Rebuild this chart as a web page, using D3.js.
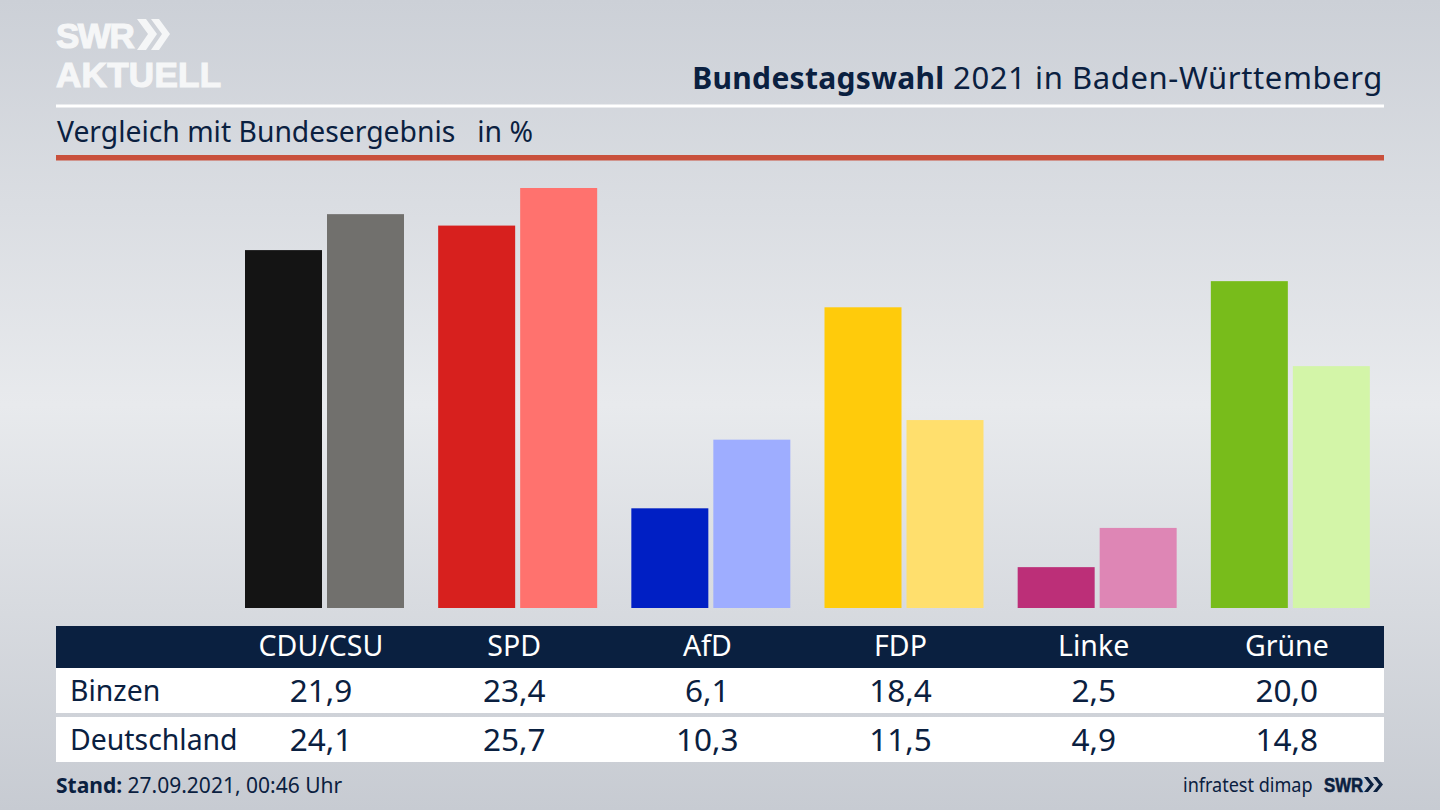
<!DOCTYPE html>
<html>

<head>
    <meta charset="utf-8">
    <script src="https://d3js.org/d3.v7.min.js"></script>
    <style>
        html, body {
            margin: 0;
            padding: 0;
            overflow: hidden;
        }

        text {
            font-family: "Noto Sans", sans-serif;
            fill: #0a2040;
        }
    </style>
</head>

<body>
    <svg width="1440" height="810"></svg>

    <script>
        const parties = ["CDU/CSU", "SPD", "AfD", "FDP", "Linke", "Grüne"];
        const regions = ["Binzen", "Deutschland"];
        const binzen = [21.9, 23.4, 6.1, 18.4, 2.5, 20.0];
        const deutschland = [24.1, 25.7, 10.3, 11.5, 4.9, 14.8];
        const binzenColors = ["#141414", "#d7201e", "#001fc4", "#ffcb0b", "#bc2f78", "#78bc1b"];
        const deutschlandColors = ["#71706d", "#ff726e", "#9eadff", "#ffdf6d", "#de86b5", "#d3f5a8"];

        const svg = d3.select("svg");

        // background
        const defs = svg.append("defs");
        const bg = defs.append("linearGradient")
            .attr("id", "bg")
            .attr("x1", 0).attr("y1", 0).attr("x2", 0).attr("y2", 1);
        bg.append("stop").attr("offset", "0%").attr("stop-color", "#ccd0d7");
        bg.append("stop").attr("offset", "50%").attr("stop-color", "#e8eaed");
        bg.append("stop").attr("offset", "100%").attr("stop-color", "#c7cbd2");

        svg.append("rect")
            .attr("width", 1440).attr("height", 810)
            .attr("fill", "url(#bg)");

        // logo
        const logo = svg.append("g").attr("fill", "#f5f6f7");
        const logoText = logo.append("text")
            .attr("font-size", 35).attr("font-weight", 700)
            .style("font-family", "'Liberation Sans', sans-serif")
            .style("fill", "#f5f6f7")
            .style("stroke", "#f5f6f7").style("stroke-width", 1.2);
        logoText.append("tspan")
            .attr("x", 56).attr("y", 47.5)
            .attr("letter-spacing", -1.5)
            .text("SWR");
        logoText.append("tspan")
            .attr("x", 56).attr("y", 87)
            .attr("letter-spacing", 0.3)
            .text("AKTUELL");
        logo.append("path").attr("d", "M137,19 h9 l11,15 l-11,16 h-9 l11,-16 z");
        logo.append("path").attr("d", "M151,19 h8 l11,15 l-11,16 h-8 l11,-16 z");

        // header
        const title = svg.append("text")
            .attr("x", 1383).attr("y", 89)
            .attr("text-anchor", "end")
            .attr("font-size", 30);
        title.append("tspan")
            .attr("font-weight", 700)
            .attr("letter-spacing", 0.3)
            .text("Bundestagswahl");
        title.append("tspan")
            .attr("font-size", 31)
            .attr("letter-spacing", 0.6)
            .text(" 2021 in Baden-Württemberg");

        svg.append("rect")
            .attr("x", 56).attr("y", 104.5).attr("width", 1328).attr("height", 3)
            .attr("fill", "#ffffff");

        svg.append("text")
            .attr("x", 57).attr("y", 142)
            .attr("font-size", 28.3)
            .attr("xml:space", "preserve")
            .text("Vergleich mit Bundesergebnis   in %");

        svg.append("rect")
            .attr("x", 56).attr("y", 155).attr("width", 1328).attr("height", 5.5)
            .attr("fill", "#c9503c");

        // bars
        const xScale = d3.scaleBand().domain(parties).range([228.5, 1387.5]);
        const xInner = d3.scaleBand()
            .domain(regions)
            .range([16.5, 175.5])
            .paddingInner(0.061);
        const yScale = d3.scaleLinear().domain([0, 25.7]).range([608, 188]);

        const groups = svg.selectAll(".party")
            .data(parties)
            .join("g")
            .attr("class", "party")
            .attr("transform", d => `translate(${xScale(d)},0)`);

        groups.append("rect")
            .attr("x", xInner("Binzen"))
            .attr("width", xInner.bandwidth())
            .attr("y", (d, i) => yScale(binzen[i]))
            .attr("height", (d, i) => yScale(0) - yScale(binzen[i]))
            .attr("fill", (d, i) => binzenColors[i]);

        groups.append("rect")
            .attr("x", xInner("Deutschland"))
            .attr("width", xInner.bandwidth())
            .attr("y", (d, i) => yScale(deutschland[i]))
            .attr("height", (d, i) => yScale(0) - yScale(deutschland[i]))
            .attr("fill", (d, i) => deutschlandColors[i]);

        // table
        svg.append("rect")
            .attr("x", 56).attr("y", 626).attr("width", 1328).attr("height", 42)
            .attr("fill", "#0a2040");
        svg.append("rect")
            .attr("x", 56).attr("y", 668).attr("width", 1328).attr("height", 45)
            .attr("fill", "#ffffff");
        svg.append("rect")
            .attr("x", 56).attr("y", 717).attr("width", 1328).attr("height", 45)
            .attr("fill", "#ffffff");

        const colX = d => xScale(d) + xInner("Binzen") + xInner.bandwidth() - 1;

        svg.selectAll(".head")
            .data(parties)
            .join("text")
            .attr("class", "head")
            .attr("x", colX)
            .attr("y", 656)
            .attr("text-anchor", "middle")
            .attr("font-size", 28.5)
            .style("fill", "#ffffff")
            .text(d => d);

        const fmt = v => v.toFixed(1).replace(".", ",");
        [binzen, deutschland].forEach((values, r) => {
            const rowY = r === 0 ? 701 : 750;
            svg.append("text")
                .attr("x", 70).attr("y", rowY)
                .attr("font-size", 28.4)
                .text(regions[r]);
            svg.selectAll(".val" + r)
                .data(parties)
                .join("text")
                .attr("class", "val" + r)
                .attr("x", colX)
                .attr("y", rowY + 1)
                .attr("text-anchor", "middle")
                .attr("font-size", 31.5)
                .text((d, i) => fmt(values[i]));
        });

        // footer
        const stand = svg.append("text")
            .attr("x", 56).attr("y", 793)
            .attr("font-size", 21);
        stand.append("tspan").attr("font-weight", 700).text("Stand:");
        stand.append("tspan").text(" 27.09.2021, 00:46 Uhr");

        svg.append("text")
            .attr("transform", "translate(1183,792) scale(0.88,1)")
            .attr("font-size", 20.5)
            .text("infratest dimap");
        svg.append("text")
            .attr("transform", "translate(1324,792) scale(0.84,1)")
            .attr("font-size", 20).attr("font-weight", 700)
            .style("font-family", "'Liberation Sans', sans-serif")
            .style("stroke", "#0a2040").style("stroke-width", 0.6)
            .text("SWR");
        svg.append("path")
            .attr("d", "M1364,777 h4 l6,7.5 l-6,7.5 h-4 l6,-7.5 z M1373,777 h4 l6,7.5 l-6,7.5 h-4 l6,-7.5 z")
            .attr("fill", "#0a2040");
    </script>
</body>

</html>
